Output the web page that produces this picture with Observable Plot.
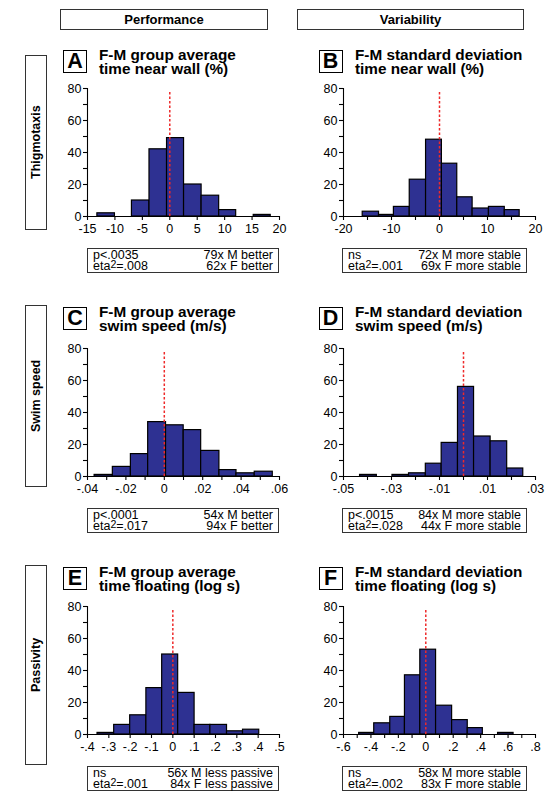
<!DOCTYPE html>
<html>
<head>
<meta charset="utf-8">
<script src="https://cdn.jsdelivr.net/npm/d3@7"></script>
<script src="https://cdn.jsdelivr.net/npm/@observablehq/plot@0.6"></script>
<style>
  body { margin: 0; background: #fff; font-family: "Liberation Sans", Arial, Helvetica, sans-serif; color: #000; }
  #root { position: relative; width: 555px; height: 795px; overflow: hidden; }
  .box { position: absolute; border: 1px solid #333; box-sizing: border-box; }
  .hdr { display: flex; align-items: center; justify-content: center; font-weight: 700; font-size: 13px; }
  .row { writing-mode: vertical-rl; transform: rotate(180deg); display: flex; align-items: center; justify-content: center; font-weight: 700; font-size: 12.5px; }
  .letter { display: flex; align-items: center; justify-content: center; font-weight: 700; font-size: 21.5px; border: 1.3px solid #000; }
  .title { position: absolute; font-weight: 700; font-size: 15.3px; line-height: 14.3px; white-space: nowrap; }
  .stats { font-size: 12.5px; line-height: 11.3px; padding: 1px 5px 0 5px; white-space: nowrap; }
  .stats .ln { display: flex; justify-content: space-between; height: 11.3px; }
  .stats .ln > span { display: inline-block; line-height: 11.3px; height: 11.3px; }
  .sup { display: inline-block; position: relative; top: -2.5px; font-size: 0.85em; line-height: 7px; height: 7px; }
  .plot { position: absolute; }
</style>
</head>
<body>
<div id="root"></div>
<script>
// ---------- DATA ----------
const columnHeaders = ["Performance", "Variability"];
const rowLabels = ["Thigmotaxis", "Swim speed", "Passivity"];
const panelLetters = ["A", "B", "C", "D", "E", "F"];
const titleLine1 = ["F-M group average", "F-M standard deviation", "F-M group average", "F-M standard deviation", "F-M group average", "F-M standard deviation"];
const titleLine2 = ["time near wall (%)", "time near wall (%)", "swim speed (m/s)", "swim speed (m/s)", "time floating (log s)", "time floating (log s)"];

// histogram bin edges and counts
const edgesA = [-13.2, -10.0, -6.9, -3.7, -0.5, 2.6, 5.8, 9.0, 12.1, 15.3, 18.4];
const countsA = [2, 0, 10, 42, 49, 20, 13, 4, 0, 1];
const edgesB = [-16.0, -12.6, -9.5, -6.2, -2.8, 0.5, 3.7, 6.9, 10.3, 13.6, 16.7];
const countsB = [3, 1, 6, 23, 48, 33, 12, 5, 6, 4];
const edgesC = [-0.0363, -0.0268, -0.0174, -0.0084, 0.0009, 0.0101, 0.0192, 0.0287, 0.0376, 0.0471, 0.0565];
const countsC = [1, 6, 14, 34, 32, 29, 16, 4, 2, 3];
const edgesD = [-0.0431, -0.0361, -0.0296, -0.0227, -0.0157, -0.0091, -0.0023, 0.0044, 0.0113, 0.0182, 0.0249];
const countsD = [1, 0, 1, 2, 8, 21, 56, 25, 22, 5];
const edgesE = [-0.353, -0.275, -0.200, -0.124, -0.050, 0.025, 0.102, 0.176, 0.254, 0.329, 0.405];
const countsE = [1, 6, 12, 29, 50, 26, 6, 6, 2, 3];
const edgesF = [-0.486, -0.376, -0.259, -0.152, -0.040, 0.075, 0.192, 0.306, 0.416, 0.527, 0.640];
const countsF = [1, 7, 11, 37, 53, 18, 9, 4, 0, 1];

// x domains and ticks
const domainA = [-15, 20], ticksA = [-15, -10, -5, 0, 5, 10, 15, 20], labelsA = ["-15", "-10", "-5", "0", "5", "10", "15", "20"], minorA = [];
const domainB = [-20, 20], ticksB = [-20, -10, 0, 10, 20], labelsB = ["-20", "-10", "0", "10", "20"], minorB = [-15, -5, 5, 15];
const domainC = [-0.04, 0.06], ticksC = [-0.04, -0.02, 0, 0.02, 0.04, 0.06], labelsC = ["-.04", "-.02", "0", ".02", ".04", ".06"], minorC = [-0.03, -0.01, 0.01, 0.03, 0.05];
const domainD = [-0.05, 0.03], ticksD = [-0.05, -0.03, -0.01, 0.01, 0.03], labelsD = ["-.05", "-.03", "-.01", ".01", ".03"], minorD = [-0.04, -0.02, 0, 0.02];
const domainE = [-0.4, 0.5], ticksE = [-0.4, -0.3, -0.2, -0.1, 0, 0.1, 0.2, 0.3, 0.4, 0.5], labelsE = ["-.4", "-.3", "-.2", "-.1", "0", ".1", ".2", ".3", ".4", ".5"], minorE = [];
const domainF = [-0.6, 0.8], ticksF = [-0.6, -0.4, -0.2, 0, 0.2, 0.4, 0.6, 0.8], labelsF = ["-.6", "-.4", "-.2", "0", ".2", ".4", ".6", ".8"], minorF = [-0.5, -0.3, -0.1, 0.1, 0.3, 0.5, 0.7];

const yDomain = [0, 80];
const yTicks = [0, 20, 40, 60, 80], yLabels = ["0", "20", "40", "60", "80"], yMinor = [10, 30, 50, 70];

// dashed reference line at zero
const refX = [0, 0, 0, 0, 0, 0];
const refTop = [78, 78, 78, 78, 78, 78];

// statistics boxes
const statLeft1 = ["p<.0035", "ns", "p<.0001", "p<.0015", "ns", "ns"];
const etaValues = ["=.008", "=.001", "=.017", "=.028", "=.001", "=.002"];
const statRight1 = ["79x M better", "72x M more stable", "54x M better", "84x M more stable", "56x M less passive", "58x M more stable"];
const statRight2 = ["62x F better", "69x F more stable", "94x F better", "44x F more stable", "84x F less passive", "83x F more stable"];

// ---------- LAYOUT ----------
const NAVY = "#2e3192";
const RED = "#ee2a2a";
const FONT = "'Liberation Sans', Arial, Helvetica, sans-serif";
const root = document.getElementById("root");

function el(cls, style, html) {
  const d = document.createElement("div");
  d.className = cls;
  Object.assign(d.style, style);
  if (html !== undefined) d.innerHTML = html;
  root.appendChild(d);
  return d;
}

// column headers
el("box hdr", {left: "60px", top: "9px", width: "208px", height: "21px"}, columnHeaders[0]);
el("box hdr", {left: "297px", top: "9px", width: "227px", height: "21px"}, columnHeaders[1]);

// row labels
const rowBoxes = [[55, 175], [305, 182], [565, 200]];
rowLabels.forEach((t, i) => el("box row", {left: "25px", top: rowBoxes[i][0] + "px", width: "22px", height: rowBoxes[i][1] + "px"}, t));

const panels = [
  {edges: edgesA, counts: countsA, domain: domainA, ticks: ticksA, labels: labelsA, minor: minorA},
  {edges: edgesB, counts: countsB, domain: domainB, ticks: ticksB, labels: labelsB, minor: minorB},
  {edges: edgesC, counts: countsC, domain: domainC, ticks: ticksC, labels: labelsC, minor: minorC},
  {edges: edgesD, counts: countsD, domain: domainD, ticks: ticksD, labels: labelsD, minor: minorD},
  {edges: edgesE, counts: countsE, domain: domainE, ticks: ticksE, labels: labelsE, minor: minorE},
  {edges: edgesF, counts: countsF, domain: domainF, ticks: ticksF, labels: labelsF, minor: minorF}
];

const colX = [87, 343];          // pixel where x-domain starts
const rowY80 = [88, 348, 606];   // pixel of y = 80
const letterTop = [49.5, 307, 567];
const titleTop = [47.5, 305, 564.5];

const ML = 36, MR = 14, MT = 10, MB = 24, IW = 192, IH = 128;

panels.forEach((p, k) => {
  const col = k % 2, row = Math.floor(k / 2);
  const bins = p.counts.map((c, i) => ({x1: p.edges[i], x2: p.edges[i + 1], n: c})).filter(d => d.n > 0);
  const xfmt = new Map(p.ticks.map((t, i) => [t, p.labels[i]]));
  const yfmt = new Map(yTicks.map((t, i) => [t, yLabels[i]]));
  const marks = [
    Plot.rectY(bins, {x1: "x1", x2: "x2", y: "n", fill: NAVY, stroke: "#000", strokeWidth: 1.2}),
    Plot.ruleX([{x: refX[k], y1: 0, y2: refTop[k]}], {x: "x", y1: "y1", y2: "y2", stroke: RED, strokeWidth: 1.5, strokeDasharray: "2.5,2"}),
    Plot.ruleY([0], {stroke: "#000", strokeWidth: 1.1}),
    Plot.ruleX([p.domain[0]], {stroke: "#000", strokeWidth: 1.1}),
    Plot.axisX({ticks: p.ticks, tickSize: 4, tickPadding: 4, tickFormat: d => xfmt.get(d), label: null, strokeWidth: 1.1, fontSize: 12.5}),
    Plot.axisY({ticks: yTicks, tickSize: 4, tickPadding: 2, tickFormat: d => yfmt.get(d), label: null, strokeWidth: 1.1, fontSize: 12.5}),
    Plot.axisY({ticks: yMinor, tickSize: 4, tickFormat: () => "", label: null, strokeWidth: 1.1})
  ];
  if (p.minor.length) marks.push(Plot.axisX({ticks: p.minor, tickSize: 4, tickFormat: () => "", label: null, strokeWidth: 1.1}));
  const svg = Plot.plot({
    width: ML + IW + MR, height: MT + IH + MB,
    marginLeft: ML, marginRight: MR, marginTop: MT, marginBottom: MB,
    x: {domain: p.domain, label: null},
    y: {domain: yDomain, label: null},
    style: {fontFamily: FONT, fontSize: "12.5px", color: "#000", background: "transparent", overflow: "visible"},
    marks
  });
  const wrap = el("plot", {left: (colX[col] - ML) + "px", top: (rowY80[row] - MT) + "px"});
  wrap.appendChild(svg);

  // letter box
  const lx = col === 0 ? 63 : 318.5;
  el("box letter", {left: lx + "px", top: letterTop[row] + "px", width: "24px", height: "23px"}, panelLetters[k]);
  // title
  const tx = col === 0 ? 99 : 355;
  el("title", {left: tx + "px", top: titleTop[row] + "px"}, titleLine1[k] + "<br>" + titleLine2[k]);

  // stats box
  const y0 = rowY80[row] + IH;
  const sw = col === 0 ? 192 : 185;
  const sx = col === 0 ? 87 : 342;
  el("box stats", {left: sx + "px", top: (y0 + 32) + "px", width: sw + "px", height: "25px"},
    `<div class="ln"><span>${statLeft1[k]}</span><span>${statRight1[k]}</span></div>` +
    `<div class="ln"><span>eta<span class="sup">2</span>${etaValues[k]}</span><span>${statRight2[k]}</span></div>`);
});
</script>
</body>
</html>
